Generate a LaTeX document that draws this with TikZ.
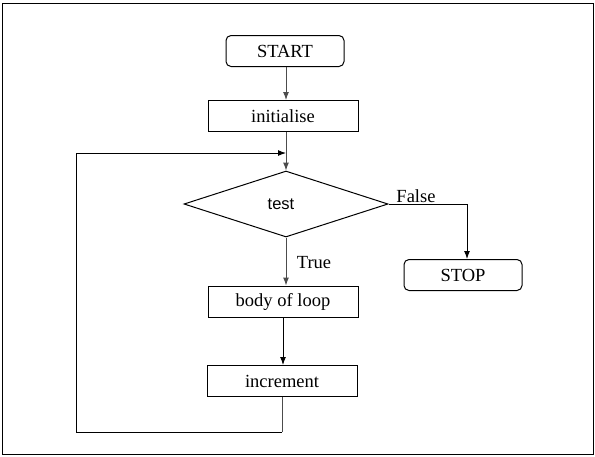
\documentclass[tikz,border=0pt]{standalone}
\usepackage{fontspec}
\setmainfont{Liberation Serif}
\newfontfamily\testfont{Liberation Sans}
\usetikzlibrary{shapes.geometric,arrows.meta}
\begin{document}
\begin{tikzpicture}[x=1pt,y=-1pt,
  every node/.style={font=\fontsize{18.5}{21}\selectfont, inner sep=0pt},
  termbox/.style={draw, rounded corners=5pt, line width=1pt, minimum width=118pt, minimum height=31pt},
  procbox/.style={draw, line width=1pt, minimum width=150pt, minimum height=31pt},
  decbox/.style={draw, diamond, line width=1pt, minimum width=204pt, minimum height=66pt, font=\testfont\fontsize{16.5}{18}\selectfont},
  flow/.style={line width=1pt, -{Latex[length=8pt,width=6pt]}},
  grayflow/.style={flow, draw=black!70},
  plain/.style={line width=1pt},
  lbl/.style={font=\fontsize{18.5}{21}\selectfont}
]
\useasboundingbox (0,0) rectangle (595,456);
\draw[line width=1pt] (2,3) rectangle (593,454);

\node[termbox] (start) at (285,51) {\raisebox{-1pt}{START}};
\node[procbox] (init) at (283,116) {\raisebox{-1pt}{initialise}};
\node[decbox] (dia) at (286,204) {\hspace*{-10pt}test};
\node[termbox] (stop) at (463,275) {\raisebox{-1pt}{STOP}};
\node[procbox] (body) at (283,301.5) {\raisebox{-1pt}{body of loop}};
\node[procbox] (incr) at (282,381) {\raisebox{-1pt}{increment}};

\coordinate (j) at (286,153);
\coordinate (lt) at (76,153);
\coordinate (lb) at (76,432);

\draw[grayflow] (start.south -| dia.north) -- (init.north -| dia.north);
\draw[grayflow] (init.south -| dia.north) -- (dia.north);
\draw[grayflow] (dia.south) -- (body.north -| dia.south);
\draw[flow] (body.south) -- (incr.north -| body.south);
\draw[plain, draw=black!70] (incr.south) -- (incr.south |- lb);
\draw[flow] (incr.south |- lb) -- (lb) -- (lt) -- (j);
\draw[flow] (dia.east) -| ([xshift=4pt]stop.north);

\node[lbl] (false) at (416,196) {False};
\node[lbl] (true) at (314,263) {True};
\end{tikzpicture}
\end{document}
